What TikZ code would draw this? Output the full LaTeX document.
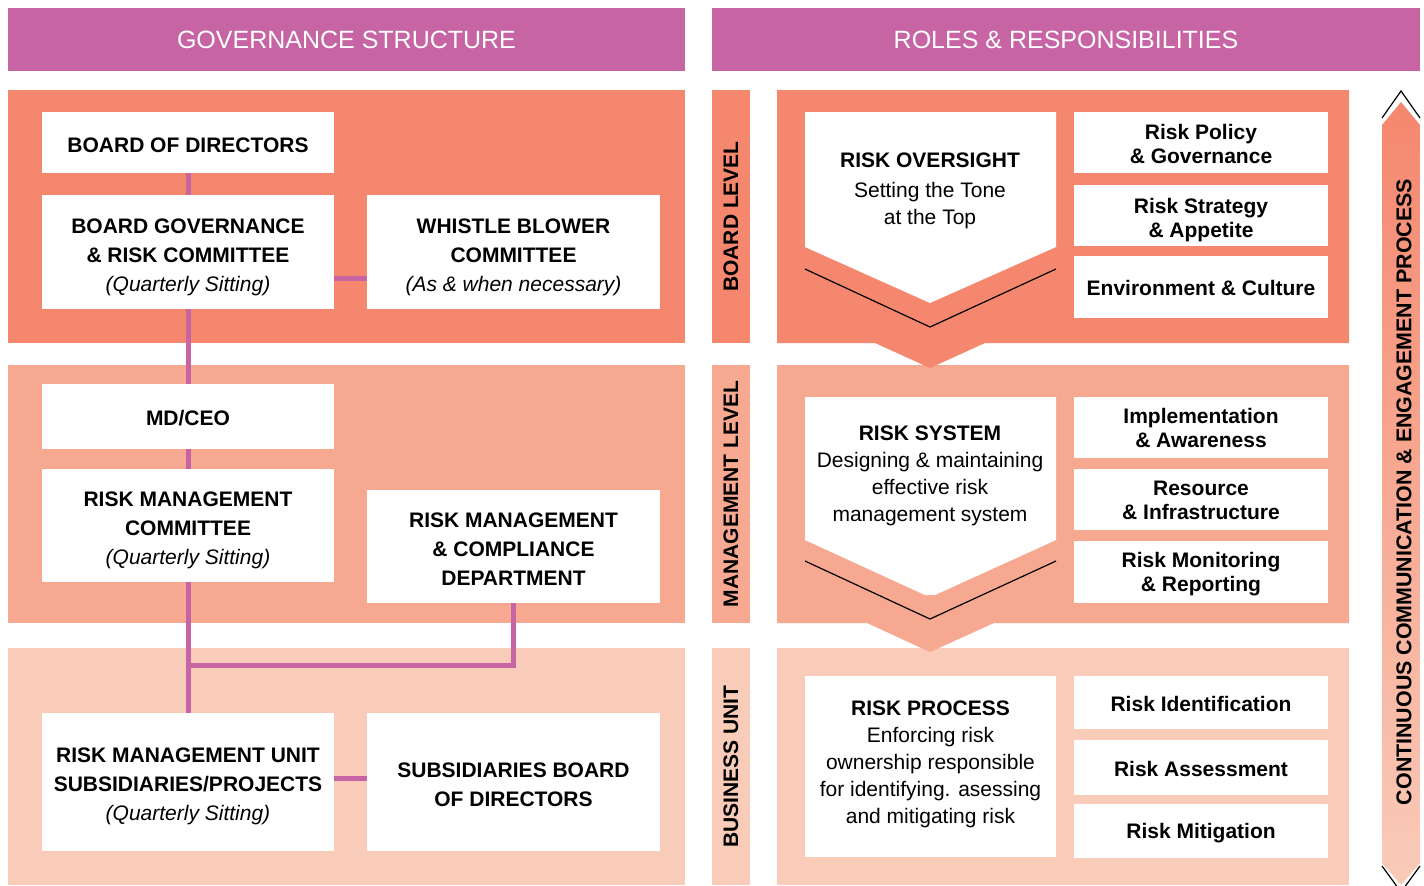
\documentclass[tikz,border=0pt]{standalone}
\usepackage{fontspec}
\setmainfont{Liberation Sans}
\usetikzlibrary{calc}
\definecolor{hdr}{HTML}{C764A3}
\definecolor{bandA}{HTML}{F5876E}
\definecolor{bandB}{HTML}{F7A891}
\definecolor{bandC}{HTML}{F9CBB9}
\tikzset{
  hdrbox/.style={fill=hdr, text=white, inner sep=0pt, minimum height=31.5pt, font=\fontsize{12.5}{14}\selectfont},
  bandbox/.style={inner sep=0pt, outer sep=0pt},
  wbox/.style={fill=white, inner sep=0pt, outer sep=0pt, minimum width=146pt},
  wtext/.style={inner sep=0pt, align=center, font=\fontsize{10.5}{14.5}\selectfont\bfseries},
  rbox/.style={fill=white, inner sep=0pt, outer sep=0pt, minimum width=127pt},
  rtext/.style={inner sep=0pt, align=center, font=\fontsize{10.5}{12}\selectfont\bfseries},
  lvlbox/.style={rotate=90, inner sep=0pt, minimum height=19pt, font=\fontsize{10.5}{12}\selectfont\bfseries},
  chevtext/.style={align=center, inner sep=0pt, font=\fontsize{10.5}{13.5}\selectfont},
  conn/.style={draw=hdr, line width=2.5pt},
  thin/.style={draw=black, line width=0.6pt},
}
\begin{document}
\begin{tikzpicture}[x=0.5pt,y=-0.5pt]
\useasboundingbox (0,0) rectangle (1424,885);
% headers
\node[hdrbox, minimum width=338.5pt] (hdrL) at (346.5,39.5) {GOVERNANCE STRUCTURE};
\node[hdrbox, minimum width=354pt] (hdrR) at (1066,39.5) {ROLES \& RESPONSIBILITIES};
% left bands
\node[bandbox, fill=bandA, minimum width=338.5pt, minimum height=126.5pt] (bL1) at (346.5,216.5) {};
\node[bandbox, fill=bandB, minimum width=338.5pt, minimum height=129pt] (bL2) at (346.5,494) {};
\node[bandbox, fill=bandC, minimum width=338.5pt, minimum height=118.5pt] (bL3) at (346.5,766.5) {};
% level labels
\node[lvlbox, fill=bandA, minimum width=126.5pt] (lv1) at (731,216.5) {BOARD LEVEL};
\node[lvlbox, fill=bandB, minimum width=129pt] (lv2) at (731,494) {MANAGEMENT LEVEL};
\node[lvlbox, fill=bandC, minimum width=118.5pt] (lv3) at (731,766.5) {BUSINESS UNIT};
% right panels
\fill[bandC] (777,648) rectangle (1349,885);
\fill[bandB] (777,365) -- (1349,365) -- (1349,623) -- (994,623) -- (930,652) -- (867,623) -- (777,623) -- cycle;
\fill[bandA] (777,90) -- (1349,90) -- (1349,343) -- (985,343) -- (930,368) -- (875,343) -- (777,343) -- cycle;
% chevron boxes
\fill[white] (805,112) -- (1056,112) -- (1056,247) -- (930,303) -- (805,247) -- cycle;
\draw[thin] (805,269) -- (930,327) -- (1056,269);
\node[chevtext] (ovs) at (930,191) {\textbf{RISK OVERSIGHT}\\[1.5pt]Setting the Tone\\at the Top};
\fill[white] (805,397) -- (1056,397) -- (1056,540) -- (935,595) -- (925,595) -- (805,540) -- cycle;
\draw[thin] (805,561) -- (930,619) -- (1056,561);
\node[chevtext] (sys) at (930,476) {\textbf{RISK SYSTEM}\\Designing \& maintaining\\effective risk\\management system};
\node[fill=white, inner sep=0pt, minimum width=125.5pt, minimum height=90.5pt] (prc) at (930.5,766.5) {};
\node[chevtext] (prct) at ([yshift=1pt]prc.center) {\textbf{RISK PROCESS}\\Enforcing risk\\ownership responsible\\for identifying. asessing\\and mitigating risk};
% right small boxes
\node[rbox, minimum height=30.5pt] (rpg) at (1201,142.5) {};
\node[rtext] (rpgt) at ([yshift=-0.5pt]rpg.center) {Risk Policy\\\& Governance};
\node[rbox, minimum height=30.5pt] (rsa) at (1201,215.5) {};
\node[rtext] (rsat) at ([yshift=-2.5pt]rsa.center) {Risk Strategy\\\& Appetite};
\node[rbox, minimum height=31pt] (env) at (1201,287) {};
\node[rtext] (envt) at ([yshift=-0.5pt]env.center) {Environment \& Culture};
\node[rbox, minimum height=30.5pt] (imp) at (1201,427.5) {};
\node[rtext] (impt) at (imp.center) {Implementation\\\& Awareness};
\node[rbox, minimum height=30.5pt] (res) at (1201,499.5) {};
\node[rtext] (rest) at ([yshift=-0.5pt]res.center) {Resource\\\& Infrastructure};
\node[rbox, minimum height=31pt] (mon) at (1201,572) {};
\node[rtext] (mont) at ([yshift=-1pt]mon.center) {Risk Monitoring\\\& Reporting};
\node[rbox, minimum height=26.5pt] (rid) at (1201,702.5) {};
\node[rtext] (ridt) at ([yshift=-0.5pt]rid.center) {Risk Identification};
\node[rbox, minimum height=27.5pt] (ras) at (1201,767.5) {};
\node[rtext] (rast) at ([yshift=-0.5pt]ras.center) {Risk Assessment};
\node[rbox, minimum height=27pt] (rmi) at (1201,831) {};
\node[rtext] (rmit) at ([yshift=-1pt]rmi.center) {Risk Mitigation};
% process arrow
\shade[top color=bandA, bottom color=bandC] (1382,125) -- (1401,102) -- (1420,125) -- (1420,863) -- (1401,885) -- (1382,863) -- cycle;
\draw[thin] (1382,118) -- (1401,91) -- (1420,118);
\draw[thin] (1382,866) -- (1401,892) -- (1420,866);
\node[rotate=90, inner sep=0pt, font=\fontsize{10.7}{12}\selectfont\bfseries] (cce) at (1404,492) {CONTINUOUS COMMUNICATION \& ENGAGEMENT PROCESS};
% left boxes
\node[wbox, minimum height=30.5pt] (bod) at (188,142.5) {};
\node[wtext] (bodt) at ([yshift=-1.5pt]bod.center) {BOARD OF DIRECTORS};
\node[wbox, minimum height=57pt] (bgrc) at (188,252) {};
\node[wtext] (bgrct) at ([yshift=-2.5pt]bgrc.center) {BOARD GOVERNANCE\\\& RISK COMMITTEE\\{\normalfont\itshape (Quarterly Sitting)}};
\node[wbox, minimum width=146.5pt, minimum height=57pt] (wbc) at (513.5,252) {};
\node[wtext] (wbct) at ([yshift=-2.5pt]wbc.center) {WHISTLE BLOWER\\COMMITTEE\\{\normalfont\itshape (As \& when necessary)}};
\node[wbox, minimum height=32.5pt] (ceo) at (188,416.5) {};
\node[wtext] (ceot) at ([yshift=-1pt]ceo.center) {MD/CEO};
\node[wbox, minimum height=56.5pt] (rmc) at (188,525.5) {};
\node[wtext] (rmct) at ([yshift=-2.5pt]rmc.center) {RISK MANAGEMENT\\COMMITTEE\\{\normalfont\itshape (Quarterly Sitting)}};
\node[wbox, minimum width=146.5pt, minimum height=56.5pt] (rmcd) at (513.5,546.5) {};
\node[wtext] (rmcdt) at ([yshift=-1.5pt]rmcd.center) {RISK MANAGEMENT\\\& COMPLIANCE\\DEPARTMENT};
\node[wbox, minimum height=69pt] (rmu) at (188,782) {};
\node[wtext] (rmut) at ([yshift=-2pt]rmu.center) {RISK MANAGEMENT UNIT\\SUBSIDIARIES/PROJECTS\\{\normalfont\itshape (Quarterly Sitting)}};
\node[wbox, minimum width=146.5pt, minimum height=69pt] (sbd) at (513.5,782) {};
\node[wtext] (sbdt) at ([yshift=-1.5pt]sbd.center) {SUBSIDIARIES BOARD\\OF DIRECTORS};
% connectors
\coordinate (junc) at (188,665);
\draw[conn] (bod.south) -- (bgrc.north);
\draw[conn] (bgrc.south) -- (ceo.north);
\draw[conn] (ceo.south) -- (rmc.north);
\draw[conn] (rmc.south) -- (rmu.north);
\draw[conn] ([yshift=-13pt]bgrc.east) -- ([yshift=-13pt]wbc.west);
\draw[conn] ([yshift=2pt]rmu.east) -- ([yshift=2pt]sbd.west);
\draw[conn] (rmcd.south) |- (junc);
\end{tikzpicture}
\end{document}
